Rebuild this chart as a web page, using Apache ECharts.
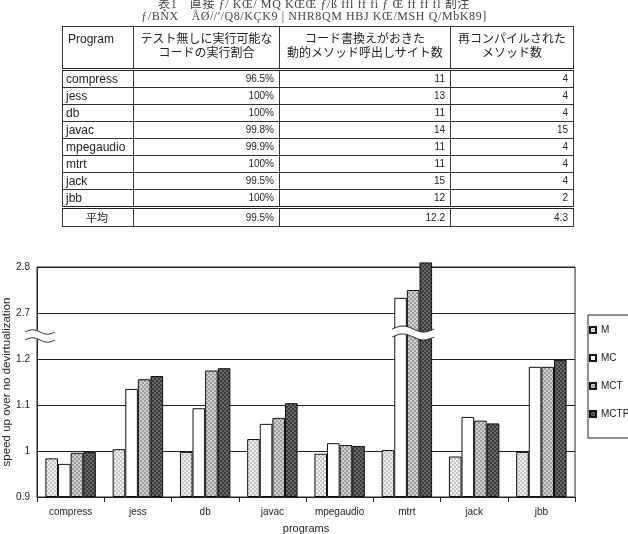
<!DOCTYPE html>
<html>
<head>
<meta charset="utf-8">
<script src="https://cdn.jsdelivr.net/npm/echarts@6.0.0/dist/echarts.min.js"></script>
<style>
  html, body { margin: 0; padding: 0; background: #fff; overflow: hidden; width: 628px; height: 534px; }
  #chart { position: absolute; left: 0; top: 0; width: 700px; height: 534px; }
  #title { position: absolute; left: 0; top: -2px; width: 628px; text-align: center; letter-spacing: 0.6px;
           font: 12px "Liberation Serif", "Noto Sans CJK JP", serif; color: #444; line-height: 12px; }
  #tbl { position: absolute; left: 62px; top: 26px; border-collapse: collapse; table-layout: fixed;
         font-family: "Liberation Sans", "Noto Sans CJK JP", sans-serif; color: #222; }
  #tbl td { border: 1px solid #333; padding: 0 5px; height: 16px; font-size: 10px; text-align: right; line-height: 14px; }
  #tbl td.name { text-align: left; font-size: 12px; padding-left: 3px; }
  #tbl tr.head td { height: 36px; text-align: center; vertical-align: top; font-size: 12px; padding-top: 5px;
                    border-bottom: 3px double #222; }
  #tbl tr.head td.name { text-align: left; padding-left: 5px; }
  #tbl tr.avg td { border-top: 3px double #222; height: 17px; }
  #tbl tr.avg td.name { text-align: center; font-size: 11px; }
</style>
</head>
<body>
<div id="chart"></div>
<div id="title">表1　直接 ƒ/ KŒ/ MQ KŒŒ ƒ/ß ffl ff fi ƒ Œ ff ff fl 割注<br>ƒ/BÑX　ÅØ//'/Q8/KÇK9 | NHR8QM HBJ KŒ/MSH Q/MbK89]</div>
<table id="tbl"></table>
<script>
// table data
var programs = ['compress', 'jess', 'db', 'javac', 'mpegaudio', 'mtrt', 'jack', 'jbb'];
var execRatio = ['96.5%', '100%', '100%', '99.8%', '99.9%', '100%', '99.5%', '100%'];
var rewrittenSites = ['11', '13', '11', '14', '11', '11', '15', '12'];
var recompiled = ['4', '4', '4', '15', '4', '4', '4', '2'];
var avgRow = ['平均', '99.5%', '12.2', '4.3'];
var headers = ['Program', 'テスト無しに実行可能な<br>コードの実行割合',
  'コード書換えがおきた<br>動的メソッド呼出しサイト数', '再コンパイルされた<br>メソッド数'];

// chart data
var seriesNames = ['M', 'MC', 'MCT', 'MCTP'];
var speedM = [0.984, 1.004, 0.998, 1.026, 0.994, 1.002, 0.988, 0.998];
var speedMC = [0.972, 1.135, 1.093, 1.059, 1.017, 2.733, 1.074, 1.183];
var speedMCT = [0.996, 1.156, 1.175, 1.072, 1.013, 2.750, 1.066, 1.183];
var speedMCTP = [0.998, 1.163, 1.180, 1.104, 1.011, 2.810, 1.060, 1.198];
var yTickLabels = ['0.9', '1', '1.1', '1.2', '2.7', '2.8'];

// build the table
var colWidths = [71, 146, 171, 123];
var html = '<colgroup>' + colWidths.map(function (w) { return '<col style="width:' + w + 'px">'; }).join('') + '</colgroup>';
html += '<tr class="head">' + headers.map(function (h, i) {
  return '<td' + (i === 0 ? ' class="name"' : '') + '>' + h + '</td>';
}).join('') + '</tr>';
programs.forEach(function (p, i) {
  html += '<tr><td class="name">' + p + '</td><td>' + execRatio[i] + '</td><td>' +
    rewrittenSites[i] + '</td><td>' + recompiled[i] + '</td></tr>';
});
html += '<tr class="avg">' + avgRow.map(function (v, i) {
  return '<td' + (i === 0 ? ' class="name"' : '') + '>' + v + '</td>';
}).join('') + '</tr>';
document.getElementById('tbl').innerHTML = html;

// broken axis: 0.9..1.2 -> 0..3, 2.7..2.8 -> 4..5
function toAxis(v) {
  return v <= 1.2 ? (v - 0.9) / 0.1 : 4 + (v - 2.7) / 0.1;
}

function makePattern(base, dot) {
  var c = document.createElement('canvas');
  c.width = 4; c.height = 4;
  var g = c.getContext('2d');
  g.fillStyle = base; g.fillRect(0, 0, 4, 4);
  g.fillStyle = dot;
  g.fillRect(0, 0, 2, 2); g.fillRect(2, 2, 2, 2);
  return { image: c, repeat: 'repeat' };
}

var fills = [
  makePattern('#efefef', '#c4c4c4'),
  '#ffffff',
  makePattern('#d2d2d2', '#9c9c9c'),
  makePattern('#6a6a6a', '#3a3a3a')
];
var allData = [speedM, speedMC, speedMCT, speedMCTP];

// chart div is 700 wide so the legend box can run off the page edge
var gridLeft = 37, gridTop = 267, gridRight = 700 - 575, gridBottom = 37;
var fontFam = '"Liberation Sans", Arial, sans-serif';

var chart = echarts.init(document.getElementById('chart'));
chart.setOption({
  animation: false,
  backgroundColor: 'transparent',
  textStyle: { fontFamily: fontFam },
  grid: {
    left: gridLeft, right: gridRight, top: gridTop, bottom: gridBottom,
    outerBoundsMode: 'none',
    containLabel: false,
    show: true, borderColor: '#222', borderWidth: 1
  },
  legend: {
    orient: 'vertical',
    left: 588,
    top: 315,
    itemWidth: 6,
    itemHeight: 6,
    itemGap: 18,
    padding: [10, 40, 19, 1],
    borderColor: '#222',
    borderWidth: 1,
    icon: 'rect',
    textStyle: { fontSize: 10, color: '#222', fontFamily: fontFam },
    data: seriesNames
  },
  xAxis: {
    type: 'category',
    data: programs,
    name: 'programs',
    nameLocation: 'middle',
    nameGap: 26,
    nameMoveOverlap: false,
    nameTextStyle: { fontSize: 11, color: '#222' },
    axisLine: { lineStyle: { color: '#222', width: 1 } },
    axisTick: { show: true, length: 5, lineStyle: { color: '#222' } },
    axisLabel: { fontSize: 10, color: '#222', margin: 10, interval: 0 }
  },
  yAxis: {
    type: 'value',
    min: 0,
    max: 5,
    interval: 1,
    name: 'speed up over no devirtualization',
    nameLocation: 'middle',
    nameRotate: 90,
    nameGap: 24,
    nameMoveOverlap: false,
    nameTextStyle: { fontSize: 11.5, color: '#222' },
    axisLine: { show: true, lineStyle: { color: '#222' } },
    axisTick: { show: false },
    splitLine: { show: true, lineStyle: { color: '#222', width: 1 } },
    axisLabel: {
      fontSize: 10, color: '#222', margin: 7,
      formatter: function (v) { return yTickLabels[Math.round(v)]; }
    }
  },
  series: seriesNames.map(function (name, k) {
    return {
      name: name,
      type: 'bar',
      clip: false,
      barGap: '0%',
      barCategoryGap: '25%',
      itemStyle: { color: fills[k], borderColor: '#111', borderWidth: 1 },
      data: allData[k].map(toAxis)
    };
  })
});

// wavy break marks
function wave(x0, x1, yc, amp) {
  var pts = [];
  for (var i = 0; i <= 24; i++) {
    var x = x0 + (x1 - x0) * i / 24;
    pts.push([x, yc - amp * Math.sin(2 * Math.PI * i / 24)]);
  }
  return pts;
}
function breakMark(x0, x1, yc, half, amp) {
  var top = wave(x0, x1, yc - half, amp);
  var bot = wave(x0, x1, yc + half, amp);
  var band = top.concat(bot.slice().reverse());
  return [
    { type: 'polygon', shape: { points: band }, style: { fill: '#fff', stroke: null }, z: 100 },
    { type: 'polyline', shape: { points: top }, style: { stroke: '#222', lineWidth: 1, fill: null }, z: 101 },
    { type: 'polyline', shape: { points: bot }, style: { stroke: '#222', lineWidth: 1, fill: null }, z: 101 }
  ];
}

var yBreak = chart.convertToPixel({ yAxisIndex: 0 }, 3.5);
var mtrtX = chart.convertToPixel({ xAxisIndex: 0 }, 'mtrt');
var catW = (700 - gridLeft - gridRight) / programs.length;
var barW = catW * 0.75 / 4;
chart.setOption({
  graphic: breakMark(gridLeft - 12, gridLeft + 18, yBreak, 4, 2.2)
    .concat(breakMark(mtrtX - barW - 2, mtrtX + 2 * barW + 2, yBreak - 3, 4, 3))
});
</script>
</body>
</html>
